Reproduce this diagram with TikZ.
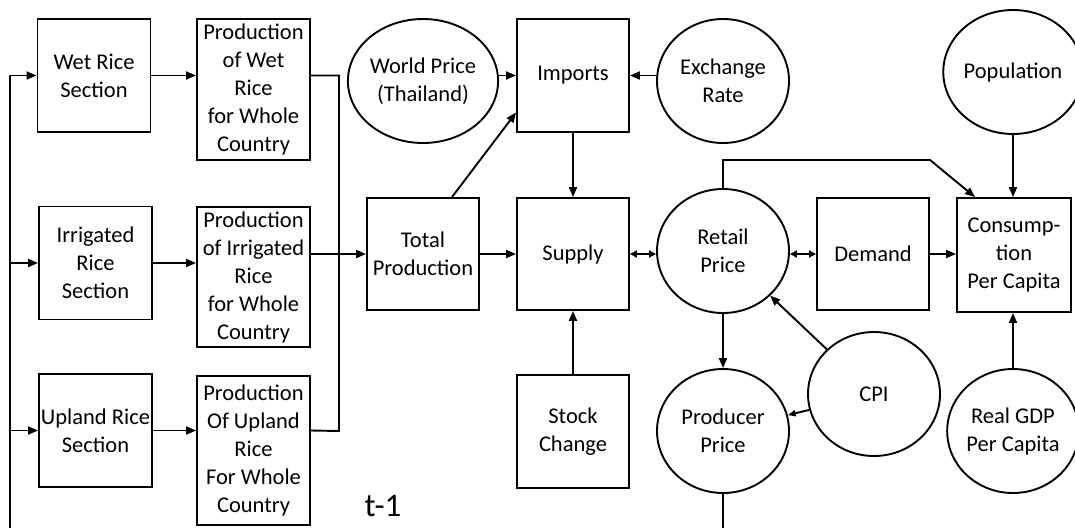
\documentclass[tikz,border=0pt]{standalone}
\usepackage{fontspec}
\setmainfont{Carlito}
\usetikzlibrary{shapes.geometric,arrows.meta}
\tikzset{
  lbl/.style={font=\fontsize{22.5}{28}\selectfont},
  box/.style={lbl, draw, line width=1.9pt, rectangle, minimum width=113pt, minimum height=113pt, inner sep=0pt, align=center},
  circ/.style={lbl, draw, ellipse, line width=1.9pt, minimum width=132pt, minimum height=124pt, inner sep=0pt, align=center},
  ln/.style={line width=1.9pt},
  arr/.style={line width=1.9pt, -{Triangle[length=10pt,width=8pt]}},
  darr/.style={line width=1.9pt, {Triangle[length=7pt,width=7pt]}-{Triangle[length=7pt,width=7pt]}},
}
\begin{document}
\begin{tikzpicture}[x=1pt,y=-1pt]
\useasboundingbox (0,0) rectangle (1075,528);
% left column
\node[box] (wet) at (94,75.5) {Wet Rice\\Section};
\node[box, minimum height=141pt] (pwet) at (253.5,89.5) {Production\\of Wet\\Rice\\for Whole\\Country};
\node[box] (irr) at (95.5,263) {Irrigated\\Rice\\Section};
\node[box, minimum height=140pt] (pirr) at (253.5,277) {Production\\of Irrigated\\Rice\\for Whole\\Country};
\node[box] (upl) at (95.5,430.5) {Upland Rice\\Section};
\node[box, minimum height=149pt] (pupl) at (253.5,450.5) {Production\\Of Upland\\Rice\\For Whole\\Country};
% middle
\node[box, minimum width=112pt, minimum height=112pt] (total) at (423,254) {Total\\Production};
\node[box, minimum width=112pt] (imports) at (573,75.5) {Imports};
\node[box, minimum width=112pt, minimum height=112pt] (supply) at (573,254) {Supply};
\node[box, minimum width=112pt] (stock) at (573,431.5) {Stock\\Change};
\node[circ] (world) at (423,81) {World Price\\(Thailand)};
\node[circ] (exch) at (723,81) {Exchange\\Rate};
\node[circ] (retail) at (723,251) {Retail\\Price};
\node[circ] (producer) at (723,431) {Producer\\Price};
\node[circ] (cpi) at (874,394) {CPI};
% right
\node[box, minimum width=112pt, minimum height=112pt] (demand) at (873,254) {Demand};
\node[box, minimum width=114pt, minimum height=114pt] (cons) at (1014,255) {Consump-\\tion\\Per Capita};
\node[circ, minimum width=128pt] (pop) at (1013,72) {Population};
\node[circ, minimum width=128pt] (gdp) at (1013,431) {Real GDP\\Per Capita};
\node[font=\fontsize{33}{36}\selectfont] (tl) at (383,506) {t-1};
% feed bus on the left
\coordinate (lb) at (10,528);
\coordinate (lt) at (10,75.5);
\draw[arr] (lb) -- (lt) -- (wet.west);
\draw[arr] (lb |- irr.west) -- (irr.west);
\draw[arr] (lb |- upl.west) -- (upl.west);
% section -> production
\draw[arr] (wet.east) -- (wet.east -| pwet.west);
\draw[arr] (irr.east) -- (irr.east -| pirr.west);
\draw[arr] (upl.east) -- (upl.east -| pupl.west);
% collector bus
\coordinate (rb1) at (339,75.5);
\coordinate (rb2) at (339,431);
\draw[ln] (wet.east -| pwet.east) -- (rb1) -- (rb2) -- (upl.east -| pupl.east);
\draw[arr] (total.west -| pirr.east) -- (total.west);
% middle connectors
\draw[arr] ([xshift=29pt]total.north) -- ([yshift=-37pt]imports.west);
\draw[arr] (imports.west -| world.east) -- (imports.west);
\draw[arr] (imports.east -| exch.west) -- (imports.east);
\draw[arr] (imports.south) -- (supply.north);
\draw[arr] (total.east) -- (supply.west);
\draw[arr] (stock.north) -- (supply.south);
\draw[darr] (supply.east) -- (supply.east -| retail.west);
\draw[darr] (demand.west -| retail.east) -- (demand.west);
\draw[arr] (demand.east) -- (demand.east -| cons.west);
% right connectors
\coordinate (k2) at (930,160);
\draw[arr] (retail.north) -- (retail.north |- k2) -- (k2) -- ([xshift=-39pt]cons.north);
\draw[arr] (pop.south) -- (pop.south |- cons.north);
\draw[arr] (gdp.north) -- (gdp.north |- cons.south);
\draw[arr] (retail.south) -- (producer.north);
\draw[arr] (cpi) -- (retail);
\draw[line width=1.9pt, -{Triangle[length=8pt,width=6pt]}] (cpi) -- (producer);
\coordinate (pb) at (723,528);
\draw[ln] (producer.south) -- (pb);
\end{tikzpicture}
\end{document}
